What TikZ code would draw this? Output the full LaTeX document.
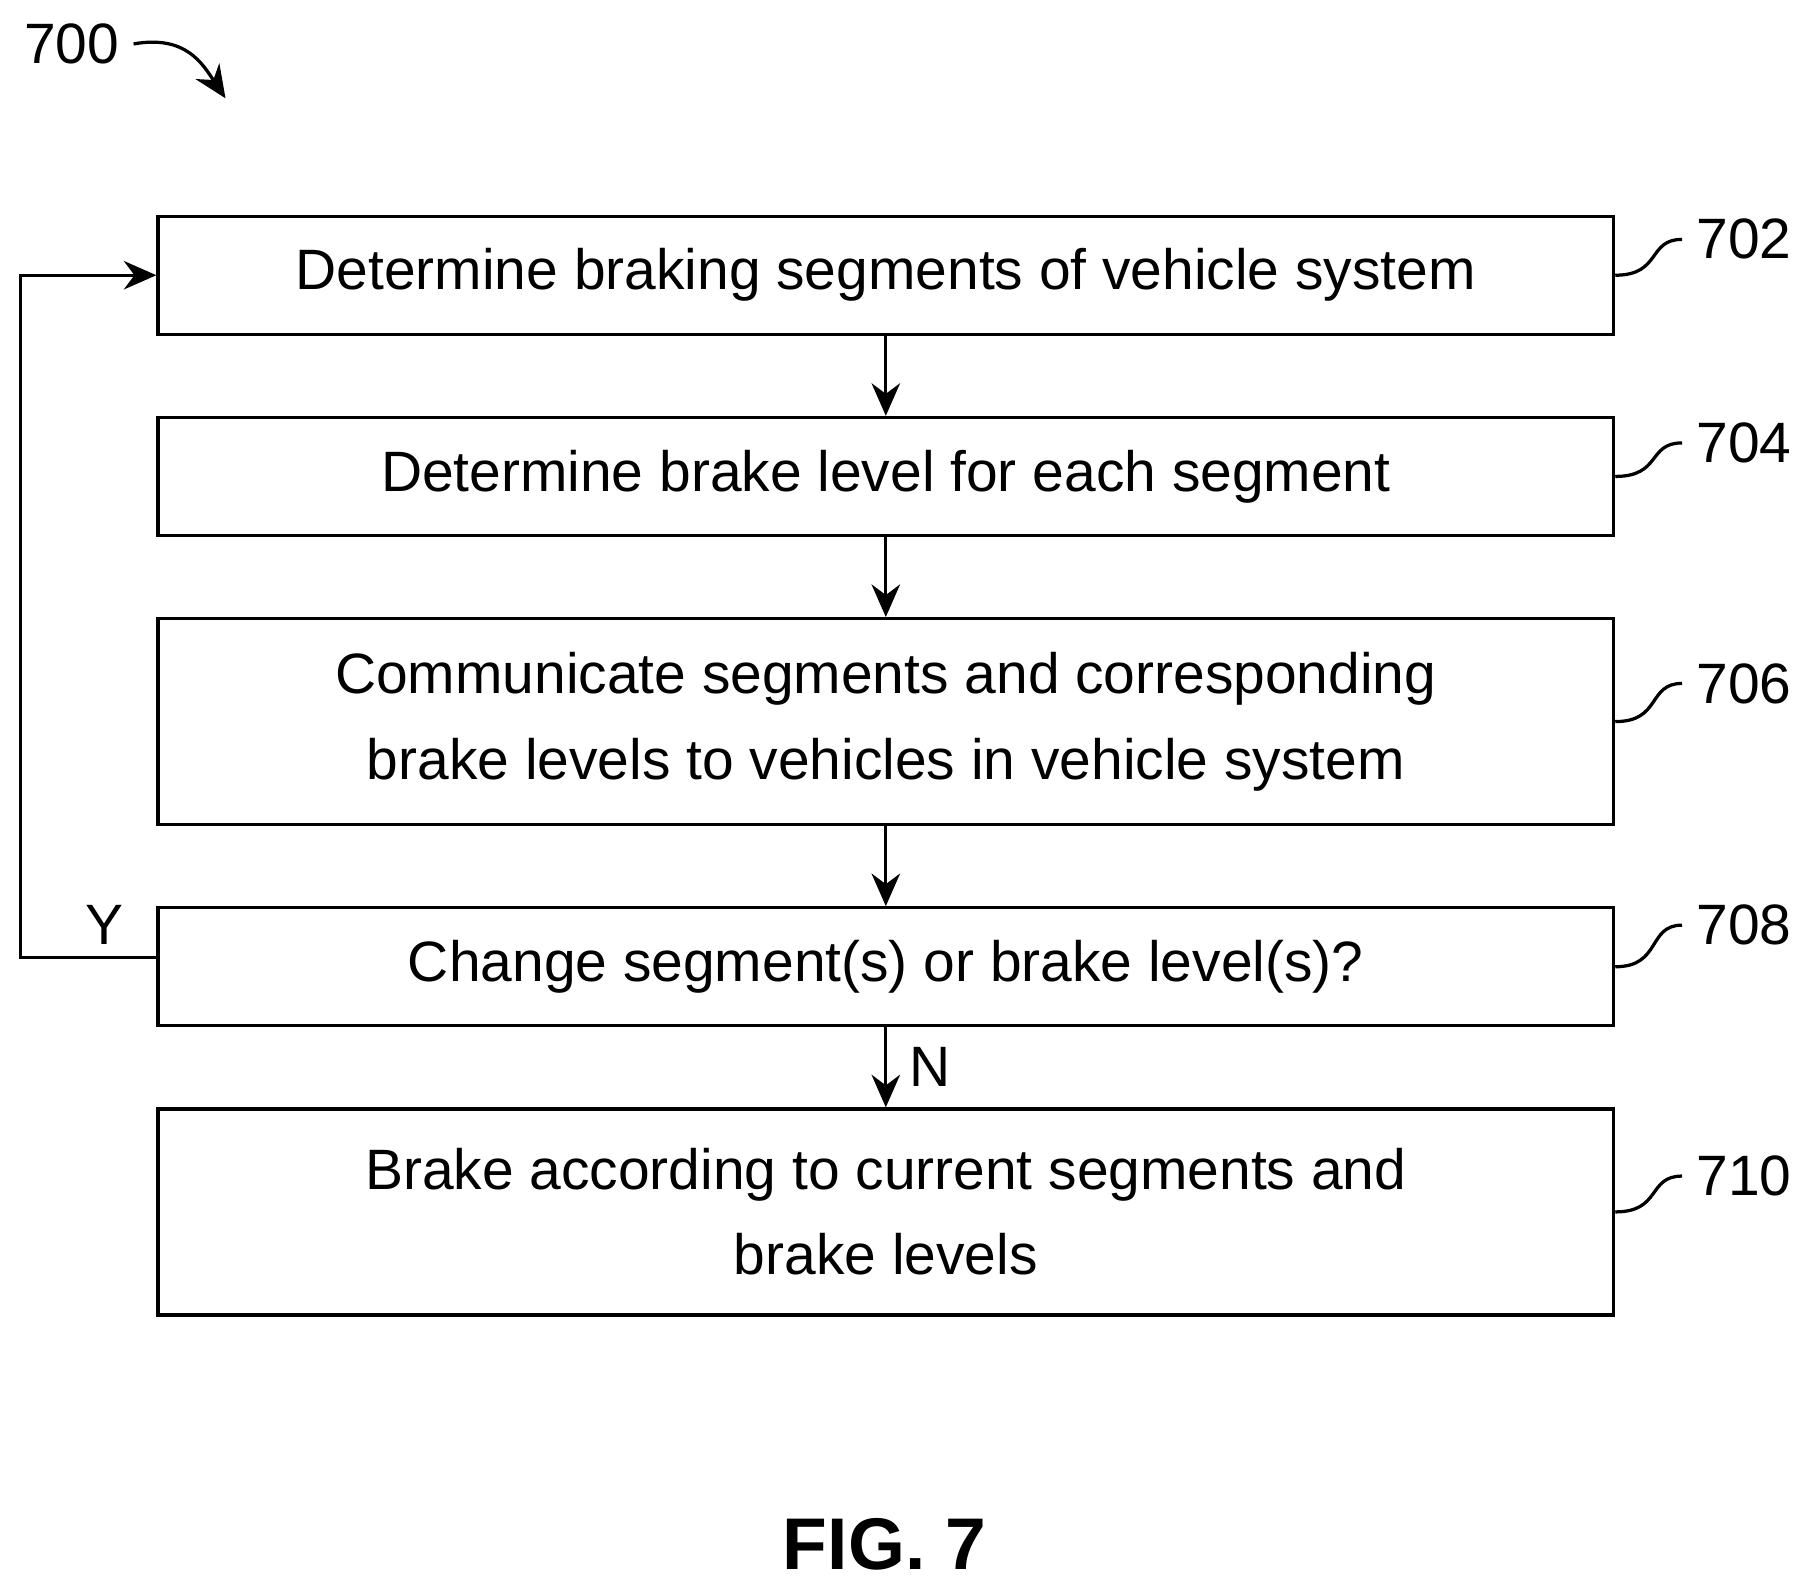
\documentclass[tikz,border=0pt]{standalone}
\usepackage{fontspec}
\setmainfont{Liberation Sans}
\usetikzlibrary{arrows.meta, positioning}
\begin{document}
\begin{tikzpicture}[
		x=0.01cm, y=-0.01cm,
		stepbox/.style={draw, thick, minimum width=12.58cm, align=center, font=\fontsize{14}{21}\selectfont},
		lbl/.style={font=\fontsize{14}{17}\selectfont},
		flow/.style={-{Stealth[length=8pt,width=7pt]}, thick},
		lead/.style={thick}
		]
		\useasboundingbox (0,0) rectangle (1560,1370);
		
		% Steps
		\node[stepbox, minimum height=1.02cm] at (766,238) (determine) {Determine braking segments of vehicle system};
		\node[stepbox, minimum height=1.02cm] at (766,412) (level) {Determine brake level for each segment};
		\node[stepbox, minimum height=1.78cm] at (766,624) (communicate) {Communicate segments and corresponding\\brake levels to vehicles in vehicle system};
		\node[stepbox, minimum height=1.02cm] at (766,836) (change) {Change segment(s) or brake level(s)?};
		\node[stepbox, minimum height=1.78cm] at (766,1048) (brake) {Brake according to current segments and\\brake levels};
		
		% Reference numerals
		\node[lbl] at (1508,207) (n702) {702};
		\node[lbl] at (1508,383) (n704) {704};
		\node[lbl] at (1508,591) (n706) {706};
		\node[lbl] at (1508,800) (n708) {708};
		\node[lbl] at (1508,1017) (n710) {710};
		\node[lbl] at (62,38) (n700) {700};
		\foreach \b/\n in {determine/n702, level/n704, communicate/n706, change/n708, brake/n710}
			\draw[lead] (\b.east) .. controls +(40,0) and +(-30,0) .. (\n.west);
		\draw[flow] (n700.east) .. controls +(45,-8) and +(-20,-30) .. (195,85);
		
		% Flow
		\draw[flow] (determine) -- (level);
		\draw[flow] (level) -- (communicate);
		\draw[flow] (communicate) -- (change);
		\draw[flow] (change) -- node[lbl, right=2pt] (no) {N} (brake);
		\coordinate (loopa) at (18,828);
		\coordinate (loopb) at (18,238);
		\draw[flow] (change.west |- loopa) -- (loopa) -- (loopb) -- (determine.west);
		\node[lbl] at (90,800) (yes) {Y};
		
		\node[font=\bfseries\fontsize{18}{22}\selectfont] at (765,1335) (fig) {FIG. 7};
\end{tikzpicture}
\end{document}
